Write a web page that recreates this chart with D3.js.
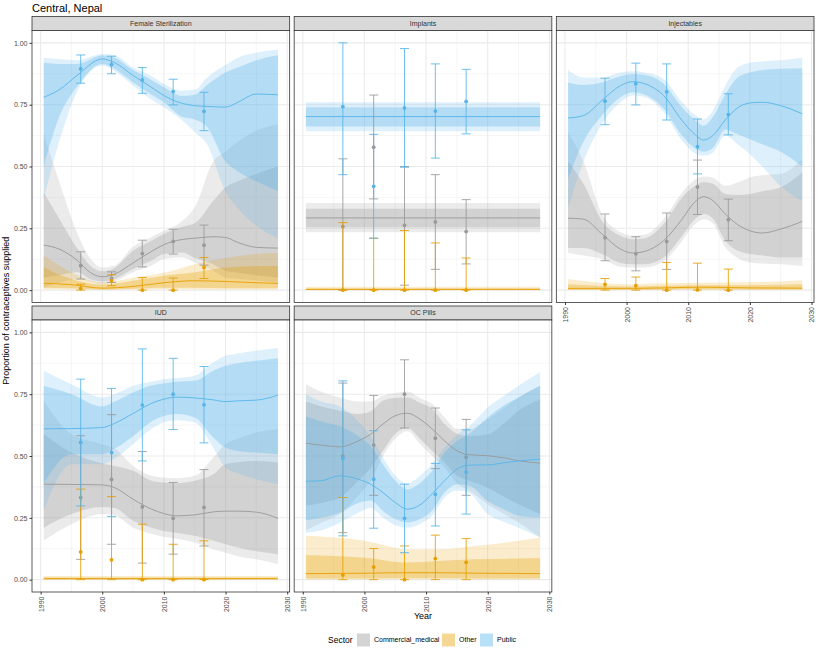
<!DOCTYPE html>
<html>
<head>
<meta charset="utf-8">
<script src="https://cdn.jsdelivr.net/npm/d3@7"></script>
<style>
body { margin: 0; background: #fff; }
text { font-family: "Liberation Sans", Arial, sans-serif; }
</style>
</head>
<body>
<div id="chart"></div>
<script>
// rows: [year, median, inner lo, inner hi, outer lo, outer hi]
const fsCommercial = [
    [1990.5, 0.182, 0.05, 0.395, 0.01, 0.63], [1993, 0.166, 0.06, 0.29, 0.03, 0.44],
    [1996, 0.119, 0.072, 0.166, 0.045, 0.227], [1998, 0.072, 0.045, 0.10, 0.035, 0.13],
    [2000, 0.054, 0.035, 0.076, 0.024, 0.092], [2002, 0.065, 0.045, 0.09, 0.035, 0.10],
    [2005, 0.11, 0.085, 0.159, 0.072, 0.175], [2008, 0.157, 0.12, 0.20, 0.10, 0.215],
    [2010, 0.184, 0.146, 0.227, 0.126, 0.24], [2013, 0.205, 0.152, 0.256, 0.132, 0.28],
    [2015, 0.21, 0.13, 0.27, 0.112, 0.335], [2018, 0.216, 0.105, 0.36, 0.078, 0.52],
    [2020, 0.213, 0.078, 0.415, 0.05, 0.56], [2022, 0.193, 0.07, 0.44, 0.045, 0.60],
    [2025, 0.173, 0.06, 0.47, 0.04, 0.645], [2028.5, 0.17, 0.05, 0.50, 0.03, 0.67]
];
const fsOther = [
    [1990.5, 0.028, 0.01, 0.092, 0.004, 0.14], [1995, 0.022, 0.008, 0.045, 0.003, 0.072],
    [2000, 0.008, 0.003, 0.022, 0.001, 0.031], [2005, 0.015, 0.006, 0.038, 0.003, 0.05],
    [2010, 0.03, 0.01, 0.058, 0.004, 0.07], [2015, 0.038, 0.01, 0.072, 0.004, 0.105],
    [2020, 0.035, 0.008, 0.092, 0.003, 0.13], [2025, 0.03, 0.008, 0.098, 0.003, 0.146],
    [2028.5, 0.027, 0.008, 0.098, 0.003, 0.152]
];
const fsPublic = [
    [1990.5, 0.78, 0.50, 0.92, 0.37, 0.94], [1993, 0.81, 0.70, 0.915, 0.60, 0.935],
    [1996, 0.87, 0.827, 0.915, 0.807, 0.93], [2000, 0.935, 0.915, 0.949, 0.908, 0.955],
    [2002, 0.92, 0.895, 0.94, 0.885, 0.95], [2005, 0.868, 0.84, 0.89, 0.827, 0.90],
    [2008, 0.82, 0.79, 0.85, 0.77, 0.865], [2010, 0.787, 0.76, 0.82, 0.74, 0.834],
    [2013, 0.755, 0.70, 0.785, 0.686, 0.807], [2015, 0.746, 0.69, 0.79, 0.64, 0.81],
    [2017, 0.743, 0.66, 0.83, 0.59, 0.86], [2020, 0.74, 0.52, 0.88, 0.40, 0.91],
    [2022, 0.76, 0.48, 0.90, 0.33, 0.94], [2025, 0.793, 0.44, 0.93, 0.26, 0.96],
    [2028.5, 0.79, 0.40, 0.95, 0.21, 0.973]
];

const impCommercial = [[1990.5, 0.292, 0.254, 0.329, 0.234, 0.352], [2028.5, 0.292, 0.254, 0.329, 0.234, 0.352]];
const impOther = [[1990.5, 0.003, 0.001, 0.007, 0, 0.014], [2028.5, 0.003, 0.001, 0.007, 0, 0.014]];
const impPublic = [[1990.5, 0.702, 0.662, 0.74, 0.643, 0.76], [2028.5, 0.702, 0.662, 0.74, 0.643, 0.76]];

const injCommercial = [
    [1990.5, 0.291, 0.17, 0.52, 0.15, 0.64], [1993, 0.287, 0.17, 0.43, 0.14, 0.52],
    [1996, 0.227, 0.146, 0.28, 0.126, 0.308], [1999, 0.166, 0.11, 0.22, 0.095, 0.235],
    [2001, 0.15, 0.105, 0.206, 0.092, 0.22], [2003, 0.157, 0.105, 0.21, 0.092, 0.225],
    [2006, 0.20, 0.132, 0.267, 0.116, 0.287], [2009, 0.287, 0.22, 0.375, 0.20, 0.395],
    [2011, 0.355, 0.285, 0.42, 0.265, 0.445], [2012.5, 0.378, 0.308, 0.436, 0.287, 0.46],
    [2014, 0.362, 0.29, 0.43, 0.27, 0.455], [2016, 0.308, 0.20, 0.389, 0.173, 0.422],
    [2018, 0.265, 0.16, 0.385, 0.13, 0.435], [2020, 0.24, 0.146, 0.389, 0.112, 0.456],
    [2022, 0.231, 0.14, 0.40, 0.108, 0.465], [2025, 0.247, 0.132, 0.416, 0.105, 0.47],
    [2028.5, 0.278, 0.132, 0.476, 0.098, 0.53]
];
const injOther = [
    [1990.5, 0.007, 0.002, 0.024, 0.001, 0.045], [2000, 0.007, 0.002, 0.015, 0.001, 0.024],
    [2006, 0.009, 0.003, 0.018, 0.001, 0.028], [2012, 0.012, 0.004, 0.02, 0.002, 0.03],
    [2020, 0.009, 0.003, 0.02, 0.001, 0.032], [2028.5, 0.008, 0.003, 0.024, 0.001, 0.04]
];
const injPublic = [
    [1990.5, 0.696, 0.45, 0.84, 0.33, 0.89], [1993, 0.706, 0.60, 0.83, 0.52, 0.86],
    [1996, 0.767, 0.706, 0.84, 0.672, 0.86], [1999, 0.827, 0.78, 0.865, 0.76, 0.88],
    [2001, 0.843, 0.80, 0.874, 0.787, 0.885], [2003, 0.834, 0.79, 0.87, 0.78, 0.88],
    [2006, 0.787, 0.735, 0.835, 0.72, 0.854], [2009, 0.686, 0.625, 0.74, 0.605, 0.76],
    [2011, 0.632, 0.575, 0.69, 0.555, 0.71], [2012.5, 0.607, 0.56, 0.665, 0.544, 0.69],
    [2014, 0.625, 0.575, 0.70, 0.557, 0.726], [2016, 0.688, 0.65, 0.79, 0.625, 0.827],
    [2018, 0.737, 0.63, 0.86, 0.59, 0.90], [2020, 0.757, 0.61, 0.88, 0.55, 0.92],
    [2022, 0.76, 0.59, 0.89, 0.50, 0.925], [2025, 0.746, 0.56, 0.895, 0.42, 0.93],
    [2028.5, 0.713, 0.50, 0.897, 0.36, 0.94]
];

const iudCommercial = [
    [1990.5, 0.386, 0.21, 0.588, 0.157, 0.723], [1995, 0.385, 0.265, 0.514, 0.224, 0.588],
    [2000, 0.383, 0.294, 0.47, 0.265, 0.548], [2002, 0.372, 0.29, 0.46, 0.26, 0.53],
    [2005, 0.325, 0.238, 0.44, 0.21, 0.46], [2008, 0.285, 0.21, 0.40, 0.185, 0.42],
    [2010, 0.267, 0.197, 0.393, 0.173, 0.413], [2012, 0.258, 0.19, 0.39, 0.165, 0.41],
    [2015, 0.262, 0.177, 0.40, 0.15, 0.42], [2018, 0.274, 0.157, 0.426, 0.123, 0.494],
    [2020, 0.277, 0.143, 0.467, 0.109, 0.548], [2022, 0.277, 0.13, 0.475, 0.095, 0.57],
    [2025, 0.273, 0.115, 0.48, 0.082, 0.595], [2028.5, 0.248, 0.103, 0.474, 0.062, 0.609]
];
const iudOther = [[1990.5, 0.004, 0.001, 0.009, 0, 0.015], [2028.5, 0.004, 0.001, 0.009, 0, 0.015]];
const iudPublic = [
    [1990.5, 0.61, 0.39, 0.784, 0.28, 0.845], [1995, 0.611, 0.507, 0.75, 0.467, 0.79],
    [2000, 0.615, 0.507, 0.70, 0.467, 0.737], [2002, 0.632, 0.53, 0.72, 0.49, 0.75],
    [2005, 0.672, 0.58, 0.757, 0.548, 0.784], [2008, 0.713, 0.64, 0.785, 0.61, 0.80],
    [2010, 0.73, 0.662, 0.793, 0.636, 0.81], [2012, 0.738, 0.67, 0.80, 0.645, 0.815],
    [2015, 0.735, 0.656, 0.804, 0.636, 0.825], [2018, 0.727, 0.575, 0.845, 0.534, 0.878],
    [2020, 0.72, 0.534, 0.865, 0.453, 0.905], [2022, 0.723, 0.52, 0.875, 0.43, 0.915],
    [2025, 0.726, 0.514, 0.885, 0.406, 0.926], [2028.5, 0.746, 0.507, 0.895, 0.386, 0.937]
];

const ocCommercial = [
    [1990.5, 0.551, 0.30, 0.72, 0.20, 0.79], [1993, 0.544, 0.31, 0.70, 0.23, 0.76],
    [1996, 0.537, 0.332, 0.683, 0.265, 0.737], [1999, 0.561, 0.40, 0.67, 0.34, 0.72],
    [2001, 0.588, 0.45, 0.68, 0.40, 0.72], [2003, 0.629, 0.521, 0.723, 0.50, 0.744],
    [2005, 0.663, 0.59, 0.735, 0.57, 0.755], [2007, 0.673, 0.613, 0.737, 0.60, 0.761],
    [2009, 0.649, 0.57, 0.715, 0.55, 0.735], [2011, 0.609, 0.52, 0.69, 0.50, 0.71],
    [2013, 0.561, 0.474, 0.629, 0.453, 0.656], [2015, 0.521, 0.42, 0.59, 0.39, 0.61],
    [2017, 0.505, 0.40, 0.58, 0.36, 0.61], [2020, 0.501, 0.372, 0.588, 0.305, 0.649],
    [2023, 0.491, 0.33, 0.64, 0.26, 0.70], [2025, 0.481, 0.305, 0.683, 0.231, 0.737],
    [2028.5, 0.471, 0.265, 0.73, 0.17, 0.784]
];
const ocOther = [
    [1990.5, 0.024, 0.005, 0.10, 0.001, 0.177], [2000, 0.026, 0.005, 0.089, 0.001, 0.157],
    [2007, 0.028, 0.006, 0.069, 0.002, 0.123], [2012, 0.028, 0.006, 0.075, 0.002, 0.123],
    [2018, 0.026, 0.005, 0.082, 0.001, 0.136], [2025, 0.025, 0.005, 0.085, 0.001, 0.157],
    [2028.5, 0.024, 0.005, 0.086, 0.001, 0.17]
];
const ocPublic = [
    [1990.5, 0.398, 0.24, 0.66, 0.19, 0.75], [1993, 0.40, 0.25, 0.64, 0.20, 0.72],
    [1996, 0.42, 0.27, 0.62, 0.23, 0.70], [1999, 0.406, 0.31, 0.58, 0.27, 0.64],
    [2001, 0.386, 0.32, 0.54, 0.29, 0.58], [2003, 0.352, 0.278, 0.467, 0.251, 0.494],
    [2005, 0.312, 0.245, 0.40, 0.22, 0.42], [2007, 0.285, 0.231, 0.366, 0.21, 0.389],
    [2009, 0.302, 0.245, 0.39, 0.225, 0.42], [2011, 0.348, 0.28, 0.44, 0.26, 0.47],
    [2013, 0.40, 0.352, 0.514, 0.332, 0.534], [2015, 0.447, 0.385, 0.56, 0.36, 0.585],
    [2017, 0.463, 0.38, 0.59, 0.35, 0.62], [2020, 0.464, 0.318, 0.656, 0.265, 0.696],
    [2023, 0.474, 0.28, 0.71, 0.23, 0.75], [2025, 0.48, 0.258, 0.737, 0.21, 0.784],
    [2028.5, 0.487, 0.251, 0.784, 0.17, 0.84]
];

// survey rows: [year, estimate, lower, upper]
const fsSurveyCommercial = [[1996.5, 0.099, 0.045, 0.155], [2001.5, 0.047, 0.031, 0.074], [2006.5, 0.148, 0.094, 0.202], [2011.5, 0.197, 0.146, 0.246], [2016.5, 0.182, 0.101, 0.263]];
const fsSurveyOther = [[1996.5, 0.007, 0, 0.024], [2001.5, 0.038, 0.018, 0.062], [2006.5, 0, 0, 0.051], [2011.5, 0, 0, 0.049], [2016.5, 0.092, 0.047, 0.132]];
const fsSurveyPublic = [[1996.5, 0.895, 0.837, 0.951], [2001.5, 0.912, 0.875, 0.946], [2006.5, 0.85, 0.796, 0.90], [2011.5, 0.803, 0.749, 0.853], [2016.5, 0.723, 0.645, 0.80]];

const impSurveyCommercial = [[1996.5, 0.257, 0, 0.531], [2001.5, 0.578, 0.369, 0.789], [2006.5, 0.262, 0.02, 0.50], [2011.5, 0.276, 0.084, 0.467], [2016.5, 0.237, 0.106, 0.366]];
const impSurveyOther = [[1996.5, 0, 0, 0.273], [2001.5, 0, 0, 0.21], [2006.5, 0, 0, 0.241], [2011.5, 0, 0, 0.191], [2016.5, 0, 0, 0.13]];
const impSurveyPublic = [[1996.5, 0.742, 0.467, 1.0], [2001.5, 0.42, 0.21, 0.63], [2006.5, 0.737, 0.497, 0.977], [2011.5, 0.724, 0.534, 0.915], [2016.5, 0.763, 0.632, 0.893]];

const injSurveyCommercial = [[1996.5, 0.212, 0.119, 0.308], [2001.5, 0.147, 0.078, 0.216], [2006.5, 0.197, 0.084, 0.312], [2011.5, 0.417, 0.306, 0.526], [2016.5, 0.285, 0.20, 0.368]];
const injSurveyOther = [[1996.5, 0.023, 0, 0.047], [2001.5, 0.018, 0, 0.053], [2006.5, 0, 0, 0.112], [2011.5, 0.001, 0, 0.109], [2016.5, 0, 0, 0.085]];
const injSurveyPublic = [[1996.5, 0.764, 0.669, 0.857], [2001.5, 0.835, 0.749, 0.918], [2006.5, 0.802, 0.688, 0.915], [2011.5, 0.58, 0.47, 0.692], [2016.5, 0.71, 0.628, 0.794]];

const iudSurveyCommercial = [[1996.5, 0.332, 0.082, 0.582], [2001.5, 0.405, 0.143, 0.667], [2006.5, 0.294, 0.067, 0.518], [2011.5, 0.248, 0.103, 0.393], [2016.5, 0.292, 0.136, 0.445]];
const iudSurveyOther = [[1996.5, 0.112, 0, 0.366], [2001.5, 0.08, 0, 0.336], [2006.5, 0, 0, 0.224], [2011.5, 0, 0, 0.143], [2016.5, 0, 0, 0.157]];
const iudSurveyPublic = [[1996.5, 0.555, 0.298, 0.811], [2001.5, 0.514, 0.255, 0.773], [2006.5, 0.706, 0.48, 0.933], [2011.5, 0.75, 0.607, 0.895], [2016.5, 0.707, 0.553, 0.862]];

const ocSurveyCommercial = [[1996.5, 0.5, 0.19, 0.795], [2001.5, 0.544, 0.341, 0.745], [2006.5, 0.75, 0.613, 0.889], [2011.5, 0.572, 0.449, 0.694], [2016.5, 0.495, 0.341, 0.648]];
const ocSurveyOther = [[1996.5, 0.019, 0, 0.332], [2001.5, 0.051, 0, 0.126], [2006.5, 0, 0, 0.136], [2011.5, 0.085, 0, 0.18], [2016.5, 0.07, 0, 0.166]];
const ocSurveyPublic = [[1996.5, 0.49, 0.177, 0.804], [2001.5, 0.406, 0.208, 0.602], [2006.5, 0.248, 0.109, 0.386], [2011.5, 0.345, 0.217, 0.47], [2016.5, 0.435, 0.265, 0.606]];

const methods = ["Female Sterilization", "Implants", "Injectables", "IUD", "OC Pills"];
const sectors = ["Commercial_medical", "Other", "Public"];
const sectorColors = ["#999999", "#E69F00", "#56B4E9"];
const yTicks = [0, 0.25, 0.5, 0.75, 1];
const yMinor = [0.125, 0.375, 0.625, 0.875];
const xTicks = [1990, 2000, 2010, 2020, 2030];
const xMinor = [1995, 2005, 2015, 2025];

const trends = [
    [fsCommercial, fsOther, fsPublic],
    [impCommercial, impOther, impPublic],
    [injCommercial, injOther, injPublic],
    [iudCommercial, iudOther, iudPublic],
    [ocCommercial, ocOther, ocPublic]
];
const surveys = [
    [fsSurveyCommercial, fsSurveyOther, fsSurveyPublic],
    [impSurveyCommercial, impSurveyOther, impSurveyPublic],
    [injSurveyCommercial, injSurveyOther, injSurveyPublic],
    [iudSurveyCommercial, iudSurveyOther, iudSurveyPublic],
    [ocSurveyCommercial, ocSurveyOther, ocSurveyPublic]
];

const W = 817, H = 654;
const left = 32, right = 814, gap = 4.5;
const panelW = (right - left - 2 * gap) / 3;
const stripTops = [16.5, 306];
const stripH = 14;
const bodyH = 272;

const svg = d3.select("#chart").append("svg")
    .attr("width", W)
    .attr("height", H);

svg.append("text")
    .attr("x", left)
    .attr("y", 12)
    .attr("font-size", "11px")
    .attr("fill", "#000")
    .text("Central, Nepal");

methods.forEach((name, i) => {
    const col = i % 3, row = Math.floor(i / 3);
    const x0 = left + col * (panelW + gap);
    const sTop = stripTops[row];
    const y0 = sTop + stripH;

    const xs = d3.scaleLinear().domain([1988.6, 2030.4]).range([x0, x0 + panelW]);
    const ys = d3.scaleLinear().domain([-0.05, 1.05]).range([y0 + bodyH, y0]);

    const g = svg.append("g");

    // strip
    g.append("rect")
        .attr("x", x0).attr("y", sTop)
        .attr("width", panelW).attr("height", stripH)
        .attr("fill", "#d9d9d9")
        .attr("stroke", "#333")
        .attr("stroke-width", 0.8);
    g.append("text")
        .attr("x", x0 + panelW / 2)
        .attr("y", sTop + stripH / 2)
        .attr("dy", "0.35em")
        .attr("text-anchor", "middle")
        .attr("font-size", "7px")
        .attr("fill", "#333")
        .text(name);

    // background + grid
    g.append("rect")
        .attr("x", x0).attr("y", y0)
        .attr("width", panelW).attr("height", bodyH)
        .attr("fill", "#fff");

    g.selectAll(".ymin").data(yMinor).enter().append("line")
        .attr("x1", x0).attr("x2", x0 + panelW)
        .attr("y1", d => ys(d)).attr("y2", d => ys(d))
        .attr("stroke", "#f0f0f0").attr("stroke-width", 0.6);
    g.selectAll(".xmin").data(xMinor).enter().append("line")
        .attr("y1", y0).attr("y2", y0 + bodyH)
        .attr("x1", d => xs(d)).attr("x2", d => xs(d))
        .attr("stroke", "#f0f0f0").attr("stroke-width", 0.6);
    g.selectAll(".ymaj").data(yTicks).enter().append("line")
        .attr("x1", x0).attr("x2", x0 + panelW)
        .attr("y1", d => ys(d)).attr("y2", d => ys(d))
        .attr("stroke", "#ebebeb").attr("stroke-width", 1.1);
    g.selectAll(".xmaj").data(xTicks).enter().append("line")
        .attr("y1", y0).attr("y2", y0 + bodyH)
        .attr("x1", d => xs(d)).attr("x2", d => xs(d))
        .attr("stroke", "#ebebeb").attr("stroke-width", 1.1);

    const bandOuter = d3.area().curve(d3.curveMonotoneX)
        .x(d => xs(d[0])).y0(d => ys(d[4])).y1(d => ys(d[5]));
    const bandInner = d3.area().curve(d3.curveMonotoneX)
        .x(d => xs(d[0])).y0(d => ys(d[2])).y1(d => ys(d[3]));
    const medLine = d3.line().curve(d3.curveMonotoneX)
        .x(d => xs(d[0])).y(d => ys(d[1]));

    trends[i].forEach((rows, s) => {
        g.append("path").datum(rows).attr("d", bandOuter)
            .attr("fill", sectorColors[s]).attr("fill-opacity", 0.2);
        g.append("path").datum(rows).attr("d", bandInner)
            .attr("fill", sectorColors[s]).attr("fill-opacity", 0.3);
    });
    trends[i].forEach((rows, s) => {
        g.append("path").datum(rows).attr("d", medLine)
            .attr("fill", "none")
            .attr("stroke", sectorColors[s])
            .attr("stroke-width", 0.9);
    });

    // survey estimates with error bars
    surveys[i].forEach((rows, s) => {
        const eb = g.append("g")
            .attr("stroke", sectorColors[s])
            .attr("stroke-width", 1)
            .attr("stroke-opacity", 0.85);
        eb.selectAll(".v").data(rows).enter().append("line")
            .attr("x1", d => xs(d[0])).attr("x2", d => xs(d[0]))
            .attr("y1", d => ys(d[2])).attr("y2", d => ys(d[3]));
        eb.selectAll(".lo").data(rows).enter().append("line")
            .attr("x1", d => xs(d[0]) - 4.5).attr("x2", d => xs(d[0]) + 4.5)
            .attr("y1", d => ys(d[2])).attr("y2", d => ys(d[2]));
        eb.selectAll(".hi").data(rows).enter().append("line")
            .attr("x1", d => xs(d[0]) - 4.5).attr("x2", d => xs(d[0]) + 4.5)
            .attr("y1", d => ys(d[3])).attr("y2", d => ys(d[3]));
        g.selectAll(".pt" + s).data(rows).enter().append("circle")
            .attr("cx", d => xs(d[0])).attr("cy", d => ys(d[1]))
            .attr("r", 1.9)
            .attr("fill", sectorColors[s]);
    });

    // panel border
    g.append("rect")
        .attr("x", x0).attr("y", y0)
        .attr("width", panelW).attr("height", bodyH)
        .attr("fill", "none")
        .attr("stroke", "#333")
        .attr("stroke-width", 0.8);

    // y axis on first column
    if (col === 0) {
        const ax = svg.append("g")
            .attr("transform", `translate(${x0},0)`)
            .call(d3.axisLeft(ys).tickValues(yTicks).tickFormat(d3.format(".2f")).tickSize(2.5).tickPadding(2));
        ax.select(".domain").remove();
        ax.selectAll("line").attr("stroke", "#333");
        ax.selectAll("text").attr("font-size", "7px").attr("fill", "#4d4d4d")
            .style("font-family", "Liberation Sans, Arial, sans-serif");
    }
    // x axis on the bottom panel of each column
    if (row === 1 || col === 2) {
        const ax = svg.append("g")
            .attr("transform", `translate(0,${y0 + bodyH})`)
            .call(d3.axisBottom(xs).tickValues(xTicks).tickFormat(d3.format("d")).tickSize(2.5));
        ax.select(".domain").remove();
        ax.selectAll("line").attr("stroke", "#333");
        ax.selectAll("text")
            .attr("font-size", "7px").attr("fill", "#4d4d4d")
            .style("font-family", "Liberation Sans, Arial, sans-serif")
            .attr("transform", "rotate(-90)")
            .attr("x", -4.5).attr("y", 0).attr("dy", "0.35em")
            .attr("text-anchor", "end");
    }
});

// axis titles
svg.append("text")
    .attr("transform", `translate(9,${(30.5 + 591) / 2}) rotate(-90)`)
    .attr("text-anchor", "middle")
    .attr("font-size", "9px")
    .attr("fill", "#000")
    .text("Proportion of contraceptives supplied");
svg.append("text")
    .attr("x", (left + right) / 2)
    .attr("y", 619)
    .attr("text-anchor", "middle")
    .attr("font-size", "9px")
    .attr("fill", "#000")
    .text("Year");

// legend
const legend = svg.append("g").attr("transform", "translate(328,640)");
legend.append("text")
    .attr("x", 0).attr("y", 0).attr("dy", "0.35em")
    .attr("font-size", "8.5px").attr("fill", "#000")
    .text("Sector");
const keyX = [29, 114, 152];
sectors.forEach((s, k) => {
    legend.append("rect")
        .attr("x", keyX[k]).attr("y", -6.5)
        .attr("width", 13).attr("height", 13)
        .attr("fill", sectorColors[k]).attr("fill-opacity", 0.42);
    legend.append("text")
        .attr("x", keyX[k] + 17).attr("y", 0).attr("dy", "0.35em")
        .attr("font-size", "7px").attr("fill", "#000")
        .text(s);
});
</script>
</body>
</html>
